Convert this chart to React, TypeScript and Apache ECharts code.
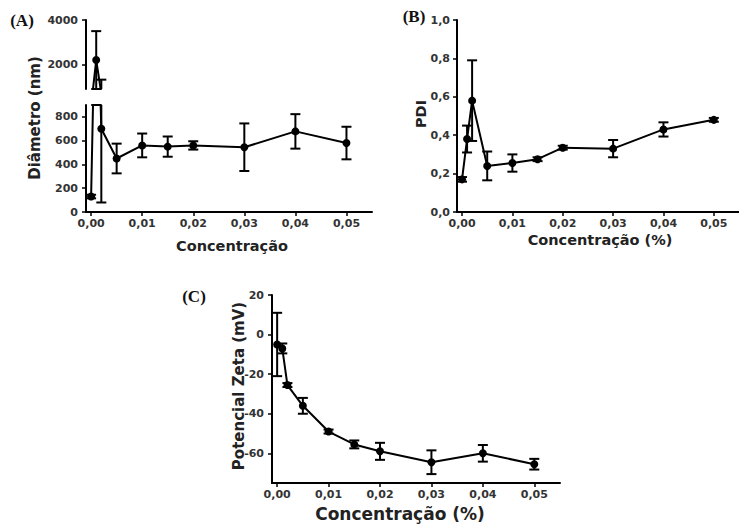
import React, { useEffect, useRef } from "react";
import * as echarts from "echarts";

// ---------- data ----------
const conc = [0, 0.001, 0.002, 0.005, 0.01, 0.015, 0.02, 0.03, 0.04, 0.05];
const diameter = [130, 2200, 700, 450, 560, 550, 560, 545, 678, 580];
const diameterErr = [15, 1300, 620, 125, 100, 85, 35, 200, 145, 137];
const pdi = [0.17, 0.38, 0.58, 0.24, 0.255, 0.275, 0.335, 0.33, 0.43, 0.48];
const pdiErr = [0.012, 0.07, 0.21, 0.075, 0.045, 0.01, 0.01, 0.045, 0.037, 0.01];
const zeta = [-5, -7, -25.5, -36, -49, -55.5, -59, -64.5, -60, -65.5];
const zetaErr = [16, 2.5, 1, 4, 1, 2, 4.3, 6, 4.2, 2.7];

const xTicks = [0, 0.01, 0.02, 0.03, 0.04, 0.05];
const diamLowTicks = [0, 200, 400, 600, 800];
const diamHighTicks = [2000, 4000];
const pdiTicks = [0, 0.2, 0.4, 0.6, 0.8, 1.0];
const zetaTicks = [-60, -40, -20, 0, 20];

const TICK_FONT = "DejaVu Sans";
const TITLE_FONT = "DejaVu Sans";

const pts = (ys: number[]) => conc.map((x, i) => [x, ys[i]]);
const errPts = (ys: number[], es: number[]) => conc.map((x, i) => [x, ys[i], es[i]]);

const errRender = (params: any, api: any) => {
  const x = api.value(0);
  const y = api.value(1);
  const e = api.value(2);
  const cs = params.coordSys;
  const top = cs.y;
  const bot = cs.y + cs.height;
  const pHi = api.coord([x, y + e]);
  const pLo = api.coord([x, y - e]);
  const y1 = pHi[1];
  const y2 = pLo[1];
  if (y2 < top - 0.5 || y1 > bot + 0.5) return null;
  const px = pHi[0];
  const st = { stroke: "#000", lineWidth: 2 };
  const hw = 5;
  const children: any[] = [
    { type: "line", shape: { x1: px, y1: Math.max(y1, top), x2: px, y2: Math.min(y2, bot) }, style: st },
  ];
  if (y1 >= top - 0.5) children.push({ type: "line", shape: { x1: px - hw, y1, x2: px + hw, y2: y1 }, style: st });
  if (y2 <= bot + 0.5) children.push({ type: "line", shape: { x1: px - hw, y1: y2, x2: px + hw, y2 }, style: st });
  return { type: "group", children };
};

const axisCommon = {
  axisLine: { show: true, onZero: false, lineStyle: { color: "#000", width: 2 } },
  axisTick: { show: true, length: 4, lineStyle: { color: "#000", width: 1.5 } },
  splitLine: { show: false },
};

const tickLabel = (margin: number, formatter: (v: number) => string, values: number[]) => ({
  show: true,
  margin,
  color: "#333",
  fontFamily: TICK_FONT,
  fontWeight: "bold" as const,
  fontSize: 11,
  formatter,
  customValues: values,
});

const fmtX = (v: number) => v.toFixed(2).replace(".", ",");
const fmtInt = (v: number) => String(Math.round(v));
const fmt1 = (v: number) => v.toFixed(1).replace(".", ",");

const xAxisDef = (gridIndex: number, show: boolean) => ({
  type: "value",
  gridIndex,
  min: -0.001,
  max: 0.055,
  show,
  ...axisCommon,
  axisTick: { ...axisCommon.axisTick, customValues: xTicks },
  axisLabel: tickLabel(6, fmtX, xTicks),
});

const yAxisDef = (gridIndex: number, min: number, max: number, ticks: number[], fmt: (v: number) => string, margin = 8) => ({
  type: "value",
  gridIndex,
  min,
  max,
  ...axisCommon,
  axisTick: { ...axisCommon.axisTick, customValues: ticks },
  axisLabel: tickLabel(margin, fmt, ticks),
});

const lineSeries = (idx: number, ys: number[]) => ({
  type: "line",
  xAxisIndex: idx,
  yAxisIndex: idx,
  data: pts(ys),
  clip: true,
  symbol: "circle",
  symbolSize: 8,
  showSymbol: true,
  lineStyle: { color: "#000", width: 2 },
  itemStyle: { color: "#000" },
  z: 3,
});

const errSeries = (idx: number, ys: number[], es: number[]) => ({
  type: "custom",
  xAxisIndex: idx,
  yAxisIndex: idx,
  data: errPts(ys, es),
  renderItem: errRender,
  encode: { x: 0, y: 1 },
  z: 2,
});

const text = (t: string, x: number, y: number, size: number, font: string, rotate = 0, fill = "#222") => ({
  type: "text",
  x,
  y,
  rotation: rotate,
  style: {
    text: t,
    fill,
    font: `bold ${size}px "${font}"`,
    align: "center",
    verticalAlign: "middle",
  },
});

export default function App() {
  const ref = useRef<HTMLDivElement>(null);
  useEffect(() => {
    if (!ref.current) return;
    const chart = echarts.init(ref.current, null, { renderer: "svg" });
    chart.setOption({
      animation: false,
      backgroundColor: "#fff",
      grid: [
        { left: 86, top: 20, width: 286, height: 69 }, // A upper
        { left: 86, top: 105, width: 286, height: 107 }, // A lower
        { left: 457, top: 20, width: 288, height: 192 }, // B
        { left: 272, top: 295, width: 288, height: 188 }, // C
      ],
      xAxis: [xAxisDef(0, false), xAxisDef(1, true), xAxisDef(2, true), xAxisDef(3, true)],
      yAxis: [
        yAxisDef(0, 900, 4000, diamHighTicks, fmtInt, 8),
        yAxisDef(1, 0, 900, diamLowTicks, fmtInt, 8),
        yAxisDef(2, 0, 1, pdiTicks, fmt1, 7),
        yAxisDef(3, -75, 20, zetaTicks, fmtInt, 8),
      ],
      series: [
        errSeries(0, diameter, diameterErr),
        lineSeries(0, diameter),
        errSeries(1, diameter, diameterErr),
        lineSeries(1, diameter),
        errSeries(2, pdi, pdiErr),
        lineSeries(2, pdi),
        errSeries(3, zeta, zetaErr),
        lineSeries(3, zeta),
      ],
      graphic: [
        text("(A)", 22, 20, 17, "Liberation Serif", 0, "#111"),
        text("(B)", 414, 16, 17, "Liberation Serif", 0, "#111"),
        text("(C)", 194, 296, 17, "Liberation Serif", 0, "#111"),
        text("Diâmetro (nm)", 35, 118, 15, TITLE_FONT, Math.PI / 2),
        text("PDI", 421, 114, 14.5, TITLE_FONT, Math.PI / 2),
        text("Potencial Zeta (mV)", 239, 386, 15, TITLE_FONT, Math.PI / 2),
        text("Concentração", 232, 246, 14.5, TITLE_FONT),
        text("Concentração (%)", 600, 240, 14.5, TITLE_FONT),
        text("Concentração (%)", 400, 514, 17, TITLE_FONT),
      ],
    });
    return () => chart.dispose();
  }, []);
  return (
    <div
      ref={ref}
      style={{ position: "absolute", left: 0, top: 0, width: 739, height: 529, background: "#fff" }}
    />
  );
}
